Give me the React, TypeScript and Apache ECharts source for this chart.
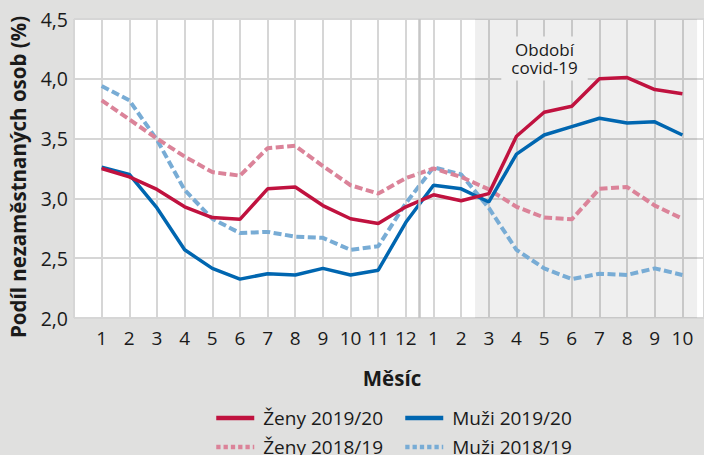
import React, { useEffect, useRef } from "react";
import * as echarts from "echarts";

const monthLabels = ["1","2","3","4","5","6","7","8","9","10","11","12","1","2","3","4","5","6","7","8","9","10"];
const yTicks = [2.0, 2.5, 3.0, 3.5, 4.0, 4.5];

const zeny1920 = [3.25,3.18,3.075,2.93,2.84,2.825,3.08,3.095,2.94,2.83,2.79,2.93,3.03,2.98,3.04,3.52,3.72,3.77,4.0,4.01,3.91,3.875];
const muzi1920 = [3.26,3.2,2.92,2.57,2.415,2.325,2.37,2.36,2.415,2.36,2.4,2.8,3.11,3.08,2.97,3.37,3.53,3.6,3.67,3.63,3.64,3.53];
const zeny1819 = [3.82,3.66,3.5,3.35,3.22,3.19,3.42,3.44,3.27,3.11,3.04,3.17,3.25,3.18,3.075,2.93,2.84,2.825,3.08,3.095,2.94,2.83];
const muzi1819 = [3.94,3.82,3.49,3.07,2.83,2.71,2.72,2.68,2.67,2.57,2.6,2.96,3.26,3.2,2.92,2.57,2.415,2.325,2.37,2.36,2.415,2.36];

const seriesNames = ["Ženy 2019/20", "Muži 2019/20", "Ženy 2018/19", "Muži 2018/19"];
const covidStart = 14.5;
const covidEnd = 22.53;
const yearBreak = 12.5;

const FONT = "'Open Sans', sans-serif";
const TEXT = "#1a1a1a";
const RED = "#c0123f";
const BLUE = "#0066b0";
const PINK = "#db8399";
const LBLUE = "#78acd5";

const toPoints = (arr: number[]) => arr.map((v, i) => [i + 1, v]);

export default function App() {
  const ref = useRef<HTMLDivElement>(null);
  useEffect(() => {
    if (!ref.current) return;
    const chart = echarts.init(ref.current, null, { renderer: "svg" });
    const legendItem = (name: string, left: number, top: number, color: string, dashed: boolean) => ({
      data: [name],
      left,
      top,
      orient: "horizontal",
      itemWidth: 38,
      itemHeight: 20,
      selectedMode: false,
      padding: 0,
      itemStyle: { opacity: 0, borderWidth: 0 },
      textStyle: { fontFamily: FONT, fontSize: 19, color: TEXT, padding: [0, 0, 0, 4], lineHeight: 20 },
      lineStyle: { width: 4.5, type: dashed ? [4.3, 3] : "solid", color, opacity: 1 },
    });
    chart.setOption({
      animation: false,
      backgroundColor: "#e0e0df",
      grid: {
        left: 74,
        right: 0,
        top: 19,
        bottom: 137,
        show: true,
        backgroundColor: "#ffffff",
        borderWidth: 0,
      },
      legend: [
        legendItem(seriesNames[0], 214, 408, RED, false),
        legendItem(seriesNames[1], 403, 408, BLUE, false),
        legendItem(seriesNames[2], 214, 437, PINK, true),
        legendItem(seriesNames[3], 403, 437, LBLUE, true),
      ],
      xAxis: {
        type: "value",
        min: 0,
        max: 22.78,
        interval: 1,
        axisLine: { show: false },
        axisTick: { show: false },
        axisLabel: {
          fontFamily: FONT,
          fontSize: 19,
          color: TEXT,
          margin: 10,
          showMinLabel: false,
          showMaxLabel: false,
          formatter: (v: number) => {
            const i = Math.round(v);
            if (Math.abs(v - i) > 1e-6 || i < 1 || i > monthLabels.length) return "";
            return monthLabels[i - 1];
          },
        },
        splitLine: { show: true, lineStyle: { color: "#d6d6d6", width: 2 } },
      },
      yAxis: {
        type: "value",
        min: yTicks[0],
        max: yTicks[yTicks.length - 1],
        interval: 0.5,
        axisLine: { show: false },
        axisTick: { show: false },
        axisLabel: {
          fontFamily: FONT,
          fontSize: 19.5,
          color: TEXT,
          margin: 6,
          formatter: (v: number) => v.toFixed(1).replace(".", ","),
        },
        splitLine: { show: true, lineStyle: { color: "#d6d6d6", width: 2 } },
      },
      graphic: [
        {
          type: "text",
          x: 18,
          y: 177,
          rotation: Math.PI / 2,
          style: {
            text: "Podíl nezaměstnaných osob (%)",
            font: `bold 20.5px ${FONT}`,
            fill: TEXT,
            align: "center",
            verticalAlign: "middle",
          },
        },
        {
          type: "text",
          x: 392,
          y: 378,
          style: {
            text: "Měsíc",
            font: `bold 20.5px ${FONT}`,
            fill: TEXT,
            align: "center",
            verticalAlign: "middle",
          },
        },
        {
          type: "text",
          x: 544.5,
          y: 58.5,
          z: 5,
          style: {
            text: "Období\ncovid-19",
            font: `17px ${FONT}`,
            lineHeight: 18,
            fill: TEXT,
            align: "center",
            verticalAlign: "middle",
            backgroundColor: "#efefef",
            padding: [4, 10],
          },
        },
      ],
      series: [
        {
          name: seriesNames[3],
          type: "line",
          data: toPoints(muzi1819),
          symbol: "none",
          lineStyle: { color: LBLUE, width: 4, type: [8, 3.5] },
          itemStyle: { color: LBLUE },
          z: 3,
          markArea: {
            silent: true,
            itemStyle: { color: "rgba(0,0,0,0.063)" },
            data: [[{ xAxis: covidStart }, { xAxis: covidEnd }]],
          },
          markLine: {
            silent: true,
            symbol: ["none", "none"],
            label: { show: false },
            lineStyle: { color: "#c6c6c6", width: 2.5, type: "solid" },
            data: [{ xAxis: yearBreak }],
          },
        },
        {
          name: seriesNames[2],
          type: "line",
          data: toPoints(zeny1819),
          symbol: "none",
          lineStyle: { color: PINK, width: 4, type: [8, 3.5] },
          itemStyle: { color: PINK },
          z: 3,
        },
        {
          name: seriesNames[1],
          type: "line",
          data: toPoints(muzi1920),
          symbol: "none",
          lineStyle: { color: BLUE, width: 3.5 },
          itemStyle: { color: BLUE },
          z: 4,
        },
        {
          name: seriesNames[0],
          type: "line",
          data: toPoints(zeny1920),
          symbol: "none",
          lineStyle: { color: RED, width: 3.5 },
          itemStyle: { color: RED },
          z: 4,
        },
      ],
    });
    return () => chart.dispose();
  }, []);
  return (
    <div
      ref={ref}
      style={{ position: "fixed", left: 0, top: 0, width: 704, height: 455, background: "#e0e0df" }}
    />
  );
}
